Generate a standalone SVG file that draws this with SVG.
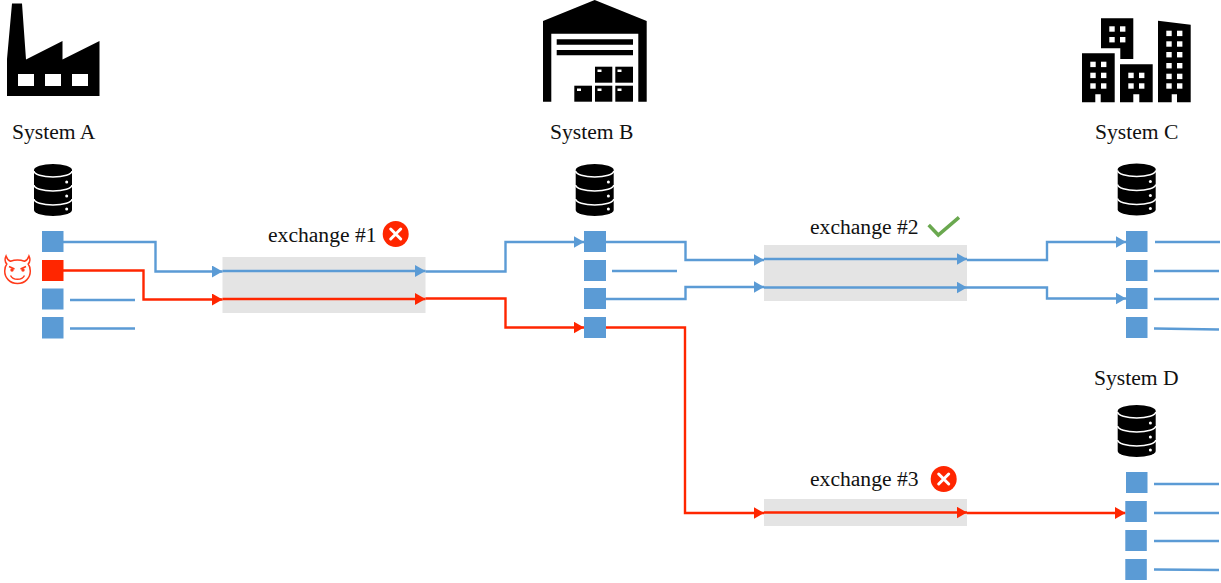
<svg xmlns="http://www.w3.org/2000/svg" width="1221" height="583" viewBox="0 0 1221 583">
<style>
text{font-family:"Liberation Serif","Times New Roman",serif;font-size:21.6px;fill:#111}
.sq{fill:#5b9bd5}
.ex{fill:#e4e4e4}
.b,.r,.s{fill:none;stroke-width:2.4}
.b,.s{stroke:#5b9bd5}
.r{stroke:#ff2600}
.b{marker-end:url(#ab)}
.r{marker-end:url(#ar)}
.w{fill:#fff}
</style>
<defs>
<marker id="ab" markerUnits="userSpaceOnUse" markerWidth="11" markerHeight="12" refX="10.500" refY="6" orient="auto"><path d="M0 0L10.500 6L0 12Z" fill="#5b9bd5"/></marker>
<marker id="ar" markerUnits="userSpaceOnUse" markerWidth="11" markerHeight="12" refX="10.500" refY="6" orient="auto"><path d="M0 0L10.500 6L0 12Z" fill="#ff2600"/></marker>
<g id="db">
<path d="M-19 6A19 6 0 0 1 19 6V46A19 6 0 0 1-19 46Z" fill="#000"/>
<path d="M-19 7A19 6 0 0 0 19 7M-19 21A19 6 0 0 0 19 21M-19 35A19 6 0 0 0 19 35" fill="none" stroke="#fff" stroke-width="1.500"/>
<circle class="w" cx="13.700" cy="18" r="1.500"/><circle class="w" cx="13.700" cy="32" r="1.500"/><circle class="w" cx="13.700" cy="45" r="1.500"/>
</g>
<g id="xb"><circle r="13" fill="#ff2600"/><path d="M-5-5L5 5M5-5L-5 5" stroke="#fff" stroke-width="3" stroke-linecap="round"/></g>
</defs>

<g id="exchanges">
<g id="exchange1"><rect class="ex" x="222.500" y="257" width="203" height="56"/><text x="268" y="241.500">exchange #1</text><use href="#xb" x="395.700" y="234"/></g>
<g id="exchange2"><rect class="ex" x="764" y="245" width="203" height="56"/><text x="810" y="234">exchange #2</text><path d="M928.700 225L938.300 235L959 217.300" fill="none" stroke="#6aa84f" stroke-width="3.500"/></g>
<g id="exchange3"><rect class="ex" x="764" y="499" width="203" height="27"/><text x="810" y="485.500">exchange #3</text><use href="#xb" x="943.700" y="479"/></g>
</g>

<g id="connectors">
<path class="b" d="M63 242H155.500V271.500H222.500"/>
<path class="b" d="M222.500 271H425.500"/>
<path class="b" d="M425.500 271.500H505.500V242H584"/>
<path class="r" d="M63 270.500H143.500V299.500H222.500"/>
<path class="r" d="M222.500 299H425.500"/>
<path class="r" d="M425.500 298.500H505.500V327.500H584"/>
<path class="b" d="M606 242H685.500V260H764"/>
<path class="b" d="M764 259H967"/>
<path class="b" d="M967 260H1047V242H1126"/>
<path class="b" d="M606 299H685.500V287H764"/>
<path class="b" d="M764 287.500H967"/>
<path class="b" d="M967 287.500H1047V298.500H1126"/>
<path class="r" d="M606 327.500H685V513H764"/>
<path class="r" d="M764 512.500H967"/>
<path class="r" d="M967 513H1125.500"/>
<path class="s" d="M70 300H135M70 328.500H135M612 271H677M1155 242H1220M1154 271H1219M1154 299H1219M1154 328.500L1219 329.500M1154 484H1219M1154 513H1219M1154 541H1219M1154 569.500L1219 570"/>
</g>

<g id="system-a">
<path d="M12 3.500H22L26 59.500L62.500 41V59.500L99.500 41V96H7V59Z" fill="#000"/>
<rect class="w" x="18" y="74" width="16" height="12"/><rect class="w" x="45" y="74" width="16" height="12"/><rect class="w" x="72" y="74" width="16" height="12"/>
<text x="12" y="138.500">System A</text>
<use href="#db" x="53" y="164"/>
<rect class="sq" x="42" y="231" width="21.500" height="21"/>
<rect x="42" y="260" width="21.500" height="21" fill="#ff2600"/>
<rect class="sq" x="42" y="288.500" width="21.500" height="21"/>
<rect class="sq" x="42" y="317" width="21.500" height="21.500"/>
<g id="devil" fill="none" stroke="#ff3a1a" stroke-width="1.500">
<path d="M6 256C4.500 259 5 262 6.800 264C5.300 266 4.700 268.500 4.700 271C4.700 278 10 283.500 17.500 283.500C25 283.500 30.300 278 30.300 271C30.300 268.500 29.700 266 28.200 264C30 262 30.500 259 29 256C28 259 26.500 260.500 24.500 261.300C20 259.500 15 259.500 10.500 261.300C8.500 260.500 7 259 6 256Z"/>
<path d="M10.500 275.500C13 280.500 22 280.500 24.500 275.500"/>
<path d="M9 266.500L14.500 269M26 266.500L20.500 269"/>
<circle cx="12" cy="270" r="1.700" fill="#ff3a1a" stroke="none"/><circle cx="23" cy="270" r="1.700" fill="#ff3a1a" stroke="none"/>
</g>
</g>

<g id="system-b">
<path d="M594.700 0L646.700 21V101.700H638.300V33.700H551.300V101.700H543V21Z" fill="#000"/>
<path d="M556.700 39.300H633V44.700H556.700ZM556.700 50H633V55.300H556.700Z" fill="#000"/>
<rect x="595" y="66.700" width="17.300" height="16"/><rect x="615.300" y="66.700" width="17.700" height="16"/>
<rect x="574.300" y="85.700" width="17.700" height="16"/><rect x="595" y="85.700" width="17.300" height="16"/><rect x="615.300" y="85.700" width="17.700" height="16"/>
<rect class="w" x="597.500" y="69.500" width="4" height="2.500"/><rect class="w" x="617.500" y="69.500" width="4" height="2.500"/>
<rect class="w" x="577" y="88.500" width="4" height="2.500"/><rect class="w" x="597.500" y="88.500" width="4" height="2.500"/><rect class="w" x="617.500" y="88.500" width="4" height="2.500"/>
<text x="550" y="138.500">System B</text>
<use href="#db" x="594.700" y="164"/>
<rect class="sq" x="584" y="231" width="22" height="21"/>
<rect class="sq" x="584" y="260" width="22" height="21"/>
<rect class="sq" x="584" y="288" width="22" height="21"/>
<rect class="sq" x="584" y="317" width="22" height="21"/>
</g>

<g id="system-c">
<path d="M1101 18.300H1133.300V59H1120.300V48.300H1101Z" fill="#000"/>
<path d="M1082 53.300H1114.700V102.300H1100.700V94.300H1095.300V102.300H1082Z" fill="#000"/>
<path d="M1120 64.300H1152.700V102.300H1139.300V94.300H1133.300V102.300H1120Z" fill="#000"/>
<path d="M1158 20.700L1190.700 24.700V102.300H1177V94.300H1171.700V102.300H1158Z" fill="#000"/>
<g class="w">
<rect x="1109.300" y="26.300" width="5.400" height="5.400"/><rect x="1120" y="26.300" width="5.400" height="5.400"/><rect x="1109.300" y="37" width="5.400" height="5.400"/><rect x="1120" y="37" width="5.400" height="5.400"/>
<rect x="1090.300" y="61.700" width="5.400" height="5.400"/><rect x="1101" y="61.700" width="5.400" height="5.400"/><rect x="1090.300" y="72.700" width="5.400" height="5.400"/><rect x="1101" y="72.700" width="5.400" height="5.400"/><rect x="1090.300" y="83.300" width="5.400" height="5.400"/><rect x="1101" y="83.300" width="5.400" height="5.400"/>
<rect x="1128.300" y="72.700" width="5.400" height="5.400"/><rect x="1139" y="72.700" width="5.400" height="5.400"/><rect x="1128.300" y="83.300" width="5.400" height="5.400"/><rect x="1139" y="83.300" width="5.400" height="5.400"/>
<rect x="1166.300" y="30.700" width="5.400" height="5.400"/><rect x="1177" y="30.700" width="5.400" height="5.400"/><rect x="1166.300" y="41.300" width="5.400" height="5.400"/><rect x="1177" y="41.300" width="5.400" height="5.400"/><rect x="1166.300" y="52" width="5.400" height="5.400"/><rect x="1177" y="52" width="5.400" height="5.400"/><rect x="1166.300" y="63" width="5.400" height="5.400"/><rect x="1177" y="63" width="5.400" height="5.400"/><rect x="1166.300" y="73.700" width="5.400" height="5.400"/><rect x="1177" y="73.700" width="5.400" height="5.400"/><rect x="1166.300" y="83.300" width="5.400" height="5.400"/><rect x="1177" y="83.300" width="5.400" height="5.400"/>
</g>
<text x="1095" y="138.500">System C</text>
<use href="#db" x="1136.700" y="163.500"/>
<rect class="sq" x="1126" y="231" width="21.500" height="21"/>
<rect class="sq" x="1126" y="260" width="21.500" height="21"/>
<rect class="sq" x="1126" y="288" width="21.500" height="21"/>
<rect class="sq" x="1126" y="317" width="21.500" height="21"/>
</g>

<g id="system-d">
<text x="1094" y="385">System D</text>
<use href="#db" x="1136.700" y="405"/>
<rect class="sq" x="1126" y="472" width="21.500" height="21"/>
<rect class="sq" x="1125.300" y="501" width="21.500" height="21"/>
<rect class="sq" x="1125.300" y="530" width="21.500" height="21"/>
<rect class="sq" x="1125.300" y="559" width="21.500" height="21"/>
</g>
</svg>
